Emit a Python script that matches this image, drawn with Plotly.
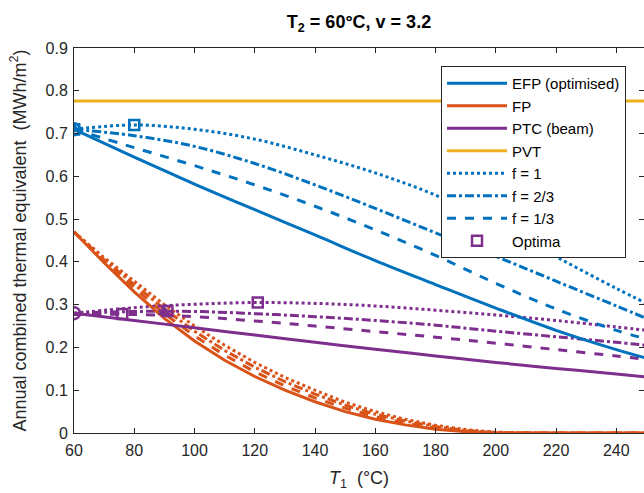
import plotly.graph_objects as go

# Collector inlet temperature T1 (°C)
T1 = [60, 80, 100, 120, 140, 160, 180, 200, 220, 240, 250]
T1_fp = [60, 70, 80, 90, 100, 110, 120, 130, 140, 150, 160, 170, 180, 190, 200, 210, 220, 230, 240, 250]

# Annual combined thermal equivalent (MWh/m^2)
efp_opt = [0.710, 0.645, 0.582, 0.522, 0.463, 0.403, 0.347, 0.292, 0.240, 0.195, 0.175]
efp_f1 = [0.710, 0.720, 0.710, 0.687, 0.650, 0.608, 0.556, 0.488, 0.412, 0.338, 0.303]
efp_f23 = [0.710, 0.695, 0.670, 0.630, 0.580, 0.525, 0.468, 0.413, 0.355, 0.297, 0.268]
efp_f13 = [0.710, 0.667, 0.625, 0.580, 0.530, 0.475, 0.415, 0.350, 0.290, 0.240, 0.220]

ptc_beam = [0.280, 0.263, 0.246, 0.229, 0.212, 0.196, 0.180, 0.165, 0.151, 0.138, 0.131]
ptc_f1 = [0.280, 0.293, 0.301, 0.305, 0.303, 0.297, 0.287, 0.276, 0.263, 0.248, 0.240]
ptc_f23 = [0.280, 0.284, 0.284, 0.279, 0.272, 0.263, 0.252, 0.238, 0.225, 0.212, 0.205]
ptc_f13 = [0.277, 0.277, 0.272, 0.262, 0.250, 0.237, 0.224, 0.210, 0.195, 0.180, 0.172]

fp_base = [0.470, 0.398, 0.330, 0.268, 0.215, 0.170, 0.132, 0.100, 0.073, 0.050,
           0.032, 0.019, 0.009, 0.003, 0.000, 0.0, 0.0, 0.0, 0.0, 0.0]
fp_f1 = [0.470, 0.410, 0.355, 0.300, 0.250, 0.205, 0.165, 0.130, 0.100, 0.072,
         0.050, 0.032, 0.018, 0.008, 0.002, 0.0, 0.0, 0.0, 0.0, 0.0]
fp_f23 = [0.470, 0.405, 0.347, 0.290, 0.238, 0.193, 0.154, 0.120, 0.091, 0.065,
          0.044, 0.028, 0.015, 0.006, 0.001, 0.0, 0.0, 0.0, 0.0, 0.0]
fp_f13 = [0.470, 0.402, 0.339, 0.279, 0.227, 0.182, 0.143, 0.110, 0.082, 0.058,
          0.038, 0.023, 0.012, 0.004, 0.000, 0.0, 0.0, 0.0, 0.0, 0.0]

pvt_value = 0.776

# Optimal operating points
opt_blue_T1 = [80, 60, 60]
opt_blue_val = [0.720, 0.710, 0.710]
opt_purple_T1 = [121, 91, 76]
opt_purple_val = [0.305, 0.285, 0.278]

# Reference points at T1 = T2 and PTC crossover
start_T1 = [60, 60]
start_val = [0.710, 0.280]
tri_T1 = [60, 90]
tri_val = [0.710, 0.283]

BLUE = "#0072BD"
ORANGE = "#D95319"
YELLOW = "#EDB120"
PURPLE = "#7E2F8E"
LW = 3

fig = go.Figure()

def line(x, y, color, dash, name=None, legend=False, shape="spline"):
    fig.add_trace(go.Scatter(
        x=x, y=y, mode="lines", name=name, showlegend=legend,
        line=dict(color=color, width=LW, dash=dash, shape=shape),
    ))

# FP family
line(T1_fp, fp_f1, ORANGE, "dot", shape="linear")
line(T1_fp, fp_f23, ORANGE, "dashdot", shape="linear")
line(T1_fp, fp_f13, ORANGE, "dash", shape="linear")

# PTC family
line(T1, ptc_f1, PURPLE, "dot")
line(T1, ptc_f23, PURPLE, "dashdot")
line(T1, ptc_f13, PURPLE, "dash")

# EFP family
line(T1, efp_f1, BLUE, "dot")
line(T1, efp_f23, BLUE, "dashdot")
line(T1, efp_f13, BLUE, "dash")

# Base curves (legend entries)
line(T1, efp_opt, BLUE, "solid", "EFP (optimised)", True)
line(T1_fp, fp_base, ORANGE, "solid", "FP", True, shape="linear")
line(T1, ptc_beam, PURPLE, "solid", "PTC (beam)", True)
line([60, 250], [pvt_value, pvt_value], YELLOW, "solid", "PVT", True, shape="linear")

# Legend entries for the concentration-factor line styles
for nm, ds in [("f = 1", "dot"), ("f = 2/3", "dashdot"), ("f = 1/3", "dash")]:
    fig.add_trace(go.Scatter(
        x=[None], y=[None], mode="lines", name=nm, showlegend=True,
        line=dict(color=BLUE, width=LW, dash=ds),
    ))

# Markers
fig.add_trace(go.Scatter(
    x=start_T1, y=start_val, mode="markers", showlegend=False,
    marker=dict(symbol="circle-open", size=12, color=[BLUE, PURPLE], line=dict(width=2.5)),
))
fig.add_trace(go.Scatter(
    x=tri_T1, y=tri_val, mode="markers", showlegend=False,
    marker=dict(symbol="triangle-up", size=12, color=[BLUE, PURPLE]),
))
fig.add_trace(go.Scatter(
    x=opt_blue_T1, y=opt_blue_val, mode="markers", showlegend=False,
    marker=dict(symbol="square-open", size=10, color=BLUE, line=dict(width=2.5)),
))
fig.add_trace(go.Scatter(
    x=opt_purple_T1, y=opt_purple_val, mode="markers", name="Optima", showlegend=True,
    marker=dict(symbol="square-open", size=10, color=PURPLE, line=dict(width=2.5)),
))

axis_color = "#262626"
fig.update_layout(
    width=644, height=493,
    margin=dict(l=74, r=0, t=48, b=60),
    plot_bgcolor="white", paper_bgcolor="white",
    font=dict(family="Liberation Sans, Arial, sans-serif", size=16, color=axis_color),
    title=dict(
        text="<b>T<sub>2</sub> = 60°C, v = 3.2</b>",
        x=0.5, xref="paper", xanchor="center",
        y=1 - 22 / 493, yref="container", yanchor="middle",
        font=dict(size=18, color="black"),
    ),
    xaxis=dict(
        range=[60, 249.2], tickvals=list(range(60, 250, 20)),
        ticks="inside", ticklen=5, tickcolor=axis_color,
        showline=True, linecolor=axis_color, linewidth=1, mirror="ticks",
        showgrid=False, zeroline=False, ticklabelstandoff=3,
        title=dict(text="<i>T</i><sub>1</sub>  (°C)", font=dict(size=18), standoff=13),
        tickfont=dict(size=16),
    ),
    yaxis=dict(
        range=[0, 0.9], dtick=0.1,
        ticks="inside", ticklen=5, tickcolor=axis_color,
        showline=True, linecolor=axis_color, linewidth=1, mirror="ticks",
        showgrid=False, zeroline=False, ticklabelstandoff=2,
        title=dict(text="Annual combined thermal equivalent  (MWh/m<sup>2</sup>)",
                   font=dict(size=18), standoff=14),
        tickfont=dict(size=16),
    ),
    legend=dict(
        x=(441 - 74) / 570, y=(433 - 66) / 385, xanchor="left", yanchor="top",
        bgcolor="white", bordercolor=axis_color, borderwidth=1,
        font=dict(size=15, color="black"), itemwidth=60, tracegroupgap=0,
    ),
)

fig.write_html("out.html")
